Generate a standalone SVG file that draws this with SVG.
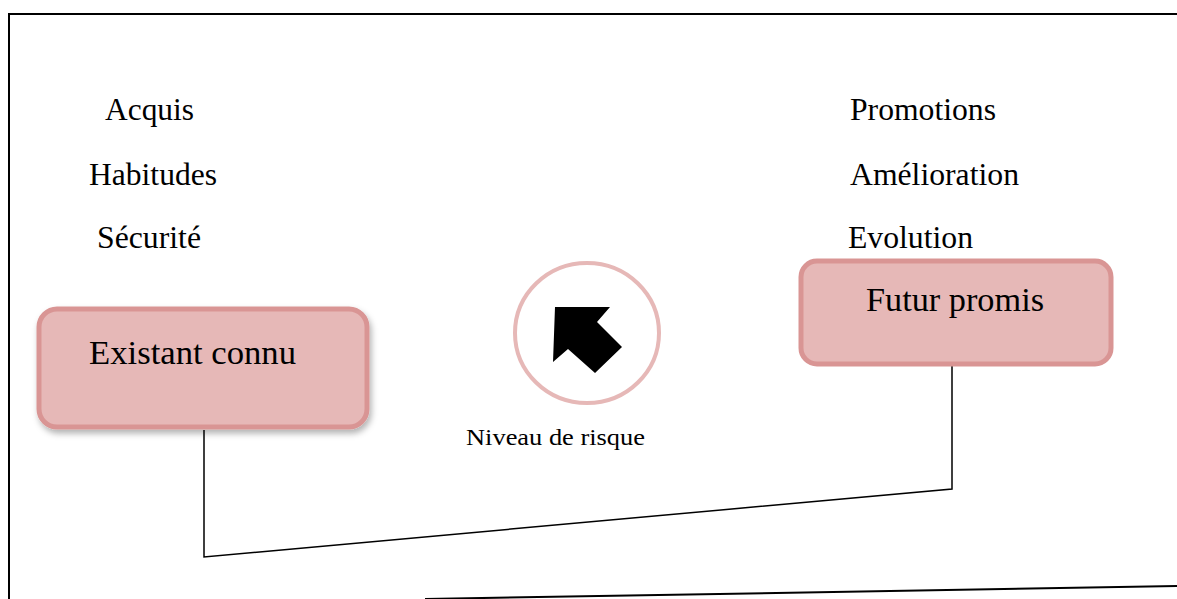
<svg xmlns="http://www.w3.org/2000/svg" width="1177" height="599" viewBox="0 0 1177 599">
<defs>
<style>
.t{font-family:"Liberation Serif","Times New Roman",serif;fill:#000}
.lbl{font-size:31px}
.box{fill:#e6b8b7;stroke:#d99594;stroke-width:5}
.bt{font-size:33px}
.ln{fill:none;stroke:#000;stroke-width:1.5}
</style>
<filter id="sh" x="-10%" y="-10%" width="130%" height="140%">
<feDropShadow dx="2" dy="4" stdDeviation="3" flood-color="#000" flood-opacity="0.3"/>
</filter>
</defs>
<rect width="1177" height="599" fill="#fff"/>
<g id="frame">
<path d="M9,599 L9,14 L1177,14" fill="none" stroke="#000" stroke-width="2"/>
<path d="M425,599 L1177,586" fill="none" stroke="#000" stroke-width="2"/>
</g>
<g id="left-labels">
<text class="t lbl" x="105" y="120" textLength="89" lengthAdjust="spacingAndGlyphs">Acquis</text>
<text class="t lbl" x="89" y="185" textLength="128" lengthAdjust="spacingAndGlyphs">Habitudes</text>
<text class="t lbl" x="97" y="248" textLength="104" lengthAdjust="spacingAndGlyphs">Sécurité</text>
</g>
<g id="right-labels">
<text class="t lbl" x="850" y="120" textLength="146" lengthAdjust="spacingAndGlyphs">Promotions</text>
<text class="t lbl" x="850" y="185" textLength="169" lengthAdjust="spacingAndGlyphs">Amélioration</text>
<text class="t lbl" x="848" y="248" textLength="125" lengthAdjust="spacingAndGlyphs">Evolution</text>
</g>
<g id="connectors">
<path class="ln" d="M204,430 L204,557 L952,489 L952,366"/>
</g>
<g id="existant">
<rect class="box" x="39" y="309" width="328" height="118" rx="18" filter="url(#sh)"/>
<text class="t bt" x="89" y="364" textLength="207" lengthAdjust="spacingAndGlyphs">Existant connu</text>
</g>
<g id="futur">
<rect class="box" x="801" y="261" width="310" height="103" rx="16"/>
<text class="t bt" x="866" y="311" textLength="178" lengthAdjust="spacingAndGlyphs">Futur promis</text>
</g>
<g id="risque">
<ellipse cx="587" cy="333" rx="72" ry="70" fill="#fff" stroke="#e6b8b7" stroke-width="4"/>
<polygon points="555,307 610,307 597,322 622,347 595,373 568,349 553,362" fill="#000"/>
<text class="t" font-size="24" x="466" y="445" textLength="179" lengthAdjust="spacingAndGlyphs">Niveau de risque</text>
</g>
</svg>
